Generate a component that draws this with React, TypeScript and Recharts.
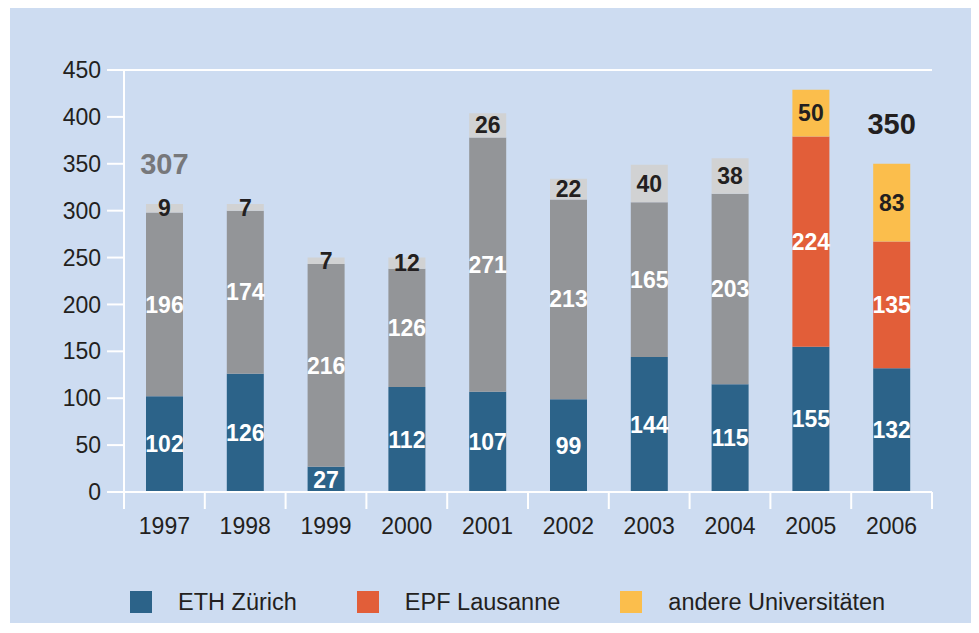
import React from 'react';
import { BarChart, Bar, XAxis, YAxis, CartesianGrid, LabelList, Legend, ReferenceDot } from 'recharts';

const years = ['1997', '1998', '1999', '2000', '2001', '2002', '2003', '2004', '2005', '2006'];
const ethZurich = [102, 126, 27, 112, 107, 99, 144, 115, 155, 132];
const ethOther = [196, 174, 216, 126, 271, 213, 165, 203, null, null];
const ethTop = [9, 7, 7, 12, 26, 22, 40, 38, null, null];
const epfLausanne = [null, null, null, null, null, null, null, null, 224, 135];
const andereUni = [null, null, null, null, null, null, null, null, 50, 83];
const yTicks = [0, 50, 100, 150, 200, 250, 300, 350, 400, 450];
const totalNotes = [
  { year: '1997', value: 307, at: 350, color: '#77787b' },
  { year: '2006', value: 350, at: 393, color: '#231f20' },
];
const legendItems = [
  { name: 'ETH Zürich', color: '#2c6389' },
  { name: 'EPF Lausanne', color: '#e25e39' },
  { name: 'andere Universitäten', color: '#fbbe4c' },
];

const data = years.map((y, i) => ({
  year: y,
  eth: ethZurich[i],
  other: ethOther[i],
  epf: epfLausanne[i],
  top: ethTop[i],
  andere: andereUni[i],
}));

const FONT = '"Liberation Sans", Arial, Helvetica, sans-serif';
const W = 969;
const H = 615;
const M = { top: 62, right: 47, left: 0, bottom: 6 };
const YW = 114;
const BAND = (W - M.left - M.right - YW) / years.length;

const fmt = (v: any) => (v == null ? '' : String(v));

const XTick = (props: any) => {
  const { x, y, payload, index } = props;
  const half = BAND / 2;
  return (
    <g>
      <line x1={x - half} y1={y} x2={x - half} y2={y + 17} stroke="#fff" strokeWidth={2} />
      {index === years.length - 1 && (
        <line x1={x + half} y1={y} x2={x + half} y2={y + 17} stroke="#fff" strokeWidth={2} />
      )}
      <text x={x} y={y + 42} textAnchor="middle" fontSize={23} fill="#231f20" fontFamily={FONT}>
        {payload.value}
      </text>
    </g>
  );
};

const LegendContent = () => (
  <div style={{ display: 'flex', alignItems: 'center', height: 30, fontFamily: FONT, fontSize: 23.5, color: '#231f20' }}>
    {legendItems.map((it) => (
      <div key={it.name} style={{ display: 'flex', alignItems: 'center', marginRight: 60 }}>
        <div style={{ width: 22, height: 22, background: it.color, marginRight: 26 }} />
        <span>{it.name}</span>
      </div>
    ))}
  </div>
);

const labelStyle = { fontFamily: FONT, fontSize: 23, fontWeight: 700 };

export default function App() {
  return (
    <div style={{ marginLeft: 2, width: W, height: H, background: '#cddcf1', position: 'relative' }}>
      <BarChart width={W} height={H} data={data} margin={M} barSize={37} style={{ fontFamily: FONT }}>
        <CartesianGrid vertical={false} stroke="#fff" strokeWidth={2} />
        <XAxis
          dataKey="year"
          height={95}
          axisLine={{ stroke: '#fff', strokeWidth: 2 }}
          tickLine={false}
          tickSize={0}
          tickMargin={0}
          tick={<XTick />}
          interval={0}
        />
        <YAxis
          yAxisId="0"
          width={YW}
          domain={[0, 450]}
          ticks={yTicks}
          interval={0}
          axisLine={{ stroke: '#fff', strokeWidth: 2 }}
          tickLine={{ stroke: '#fff', strokeWidth: 2 }}
          tickSize={17}
          tickMargin={6}
          tick={{ fill: '#231f20', fontSize: 23, fontFamily: FONT }}
        />
        <YAxis
          yAxisId="r"
          orientation="right"
          width={0}
          domain={[0, 450]}
          ticks={yTicks}
          tick={false}
          tickLine={false}
          axisLine={{ stroke: '#fff', strokeWidth: 2 }}
        />
        <Legend
          verticalAlign="bottom"
          content={<LegendContent />}
          wrapperStyle={{ left: 120, bottom: 6, width: 'auto', height: 30 }}
        />
        <Bar dataKey="eth" stackId="s" fill="#2c6389" isAnimationActive={false} yAxisId="0">
          <LabelList dataKey="eth" position="center" fill="#fff" formatter={fmt} style={labelStyle} />
        </Bar>
        <Bar dataKey="other" stackId="s" fill="#939598" isAnimationActive={false} yAxisId="0">
          <LabelList dataKey="other" position="center" fill="#fff" formatter={fmt} style={labelStyle} />
        </Bar>
        <Bar dataKey="epf" stackId="s" fill="#e25e39" isAnimationActive={false} yAxisId="0">
          <LabelList dataKey="epf" position="center" fill="#fff" formatter={fmt} style={labelStyle} />
        </Bar>
        <Bar dataKey="top" stackId="s" fill="#d1d2d3" isAnimationActive={false} yAxisId="0">
          <LabelList dataKey="top" position="center" fill="#231f20" formatter={fmt} style={labelStyle} />
        </Bar>
        <Bar dataKey="andere" stackId="s" fill="#fbbe4c" isAnimationActive={false} yAxisId="0">
          <LabelList dataKey="andere" position="center" fill="#231f20" formatter={fmt} style={labelStyle} />
        </Bar>
        {totalNotes.map((n) => (
          <ReferenceDot
            key={n.year}
            x={n.year}
            y={n.at}
            yAxisId="0"
            r={0}
            fill="none"
            stroke="none"
            label={{ value: String(n.value), position: 'center', fill: n.color, fontSize: 29, fontWeight: 700, fontFamily: FONT }}
          />
        ))}
      </BarChart>
    </div>
  );
}
